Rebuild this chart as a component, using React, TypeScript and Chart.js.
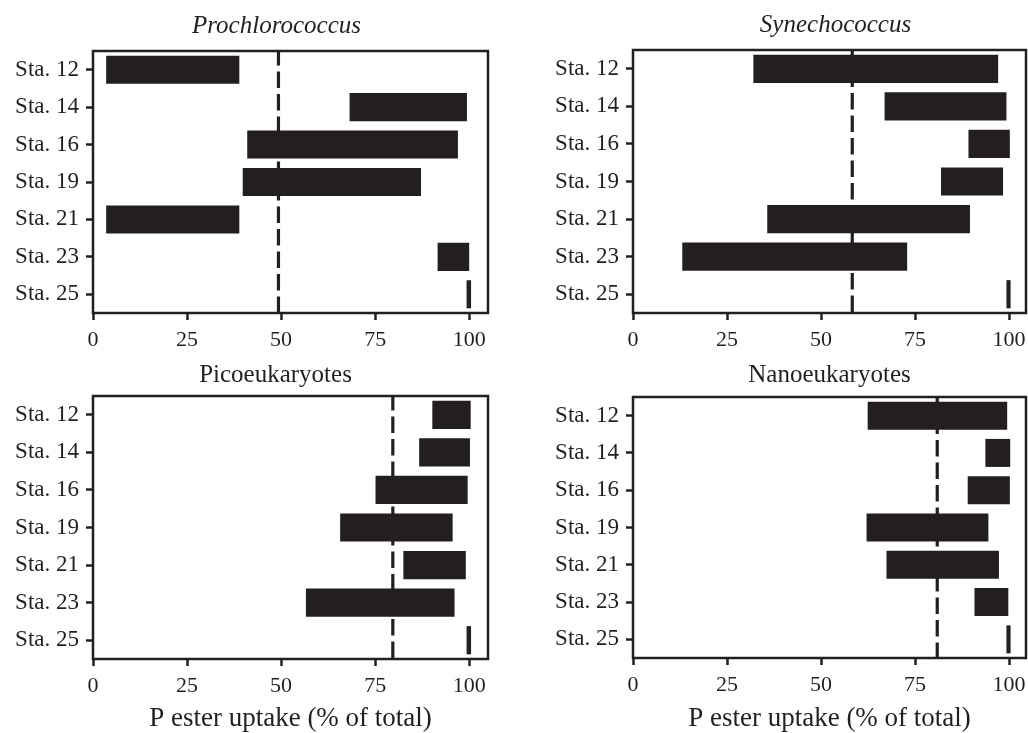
import React, { useEffect, useRef } from "react";
import { Chart, registerables } from "chart.js";

Chart.register(...registerables);

const INK = "#231f20";
const SERIF = "'Liberation Serif', 'Times New Roman', serif";

const stations = ["Sta. 12", "Sta. 14", "Sta. 16", "Sta. 19", "Sta. 21", "Sta. 23", "Sta. 25"];
const xTickValues = [0, 25, 50, 75, 100];
const xAxisTitle = "P ester uptake (% of total)";

const prochloroStart = [3.5, 68.2, 41, 39.8, 3.5, 91.6, 99.3];
const prochloroEnd = [38.9, 99.4, 97, 87.2, 38.9, 100, 100.5];
const prochloroMean = 49.3;

const synechoStart = [32, 66.9, 89.2, 81.9, 35.7, 13.1, 99.3];
const synechoEnd = [97.1, 99.3, 100.2, 98.4, 89.6, 72.9, 100.4];
const synechoMean = 58.3;

const picoStart = [90.2, 86.7, 75.1, 65.7, 82.5, 56.6, 99.3];
const picoEnd = [100.4, 100.2, 99.6, 95.6, 99.1, 96.1, 100.5];
const picoMean = 79.7;

const nanoStart = [62.4, 93.7, 89, 62.1, 67.4, 90.8, 99.3];
const nanoEnd = [99.5, 100.3, 100.2, 94.5, 97.3, 99.8, 100.4];
const nanoMean = 80.9;

const panelPlugin = {
  id: "panelDecor",
  beforeDatasetsDraw(chart: any, _args: any, opts: any) {
    const { ctx, chartArea: a, scales } = chart;
    const px = scales.x.getPixelForValue(opts.mean);
    ctx.save();
    ctx.strokeStyle = INK;
    ctx.lineWidth = 3.2;
    ctx.setLineDash([16.5, 6]);
    ctx.lineDashOffset = 2;
    ctx.beginPath();
    ctx.moveTo(px, a.top);
    ctx.lineTo(px, a.bottom);
    ctx.stroke();
    ctx.restore();
  },
  afterDatasetsDraw(chart: any, _args: any, opts: any) {
    const { ctx, chartArea: a } = chart;
    ctx.save();
    ctx.strokeStyle = INK;
    ctx.lineWidth = 2.5;
    ctx.setLineDash([]);
    ctx.strokeRect(a.left, a.top, a.right - a.left, a.bottom - a.top);
    ctx.fillStyle = INK;
    ctx.font = `${opts.italic ? "italic " : ""}25px ${SERIF}`;
    ctx.textAlign = "center";
    ctx.textBaseline = "middle";
    ctx.fillText(opts.title, (a.left + a.right) / 2 + opts.titleDx, opts.titleY);
    ctx.restore();
  },
};

type PanelProps = {
  title: string;
  italic: boolean;
  starts: number[];
  ends: number[];
  mean: number;
  showXTitle: boolean;
  left: number;
  top: number;
  width: number;
  height: number;
  chartLeft: number;
  chartRight: number;
  chartTop: number;
  chartBottom: number;
  xMax: number;
  titleDx: number;
  titleY: number;
};

function Panel(p: PanelProps) {
  const ref = useRef<HTMLCanvasElement>(null);
  useEffect(() => {
    const chart = new Chart(ref.current as HTMLCanvasElement, {
      type: "bar",
      data: {
        labels: stations,
        datasets: [
          {
            data: p.starts.map((s, i) => [s, p.ends[i]]) as any,
            backgroundColor: INK,
            borderWidth: 0,
            barPercentage: 0.75,
            categoryPercentage: 1,
          },
        ],
      },
      options: {
        indexAxis: "y",
        animation: false,
        responsive: false,
        layout: { padding: { left: 0, top: p.chartTop, right: p.width - p.chartRight, bottom: 0 } },
        plugins: {
          legend: { display: false },
          tooltip: { enabled: false },
          title: { display: false },
          panelDecor: {
            mean: p.mean,
            title: p.title,
            italic: p.italic,
            titleDx: p.titleDx,
            titleY: p.titleY,
          },
        } as any,
        scales: {
          x: {
            type: "linear",
            min: 0,
            max: p.xMax,
            afterBuildTicks: (s: any) => {
              s.ticks = xTickValues.map((v) => ({ value: v }));
            },
            afterFit: (s: any) => {
              s.height = p.height - p.chartBottom;
            },
            grid: {
              drawOnChartArea: false,
              drawTicks: true,
              tickLength: 7,
              tickWidth: 2.5,
              tickColor: INK,
            },
            border: { display: false },
            ticks: {
              color: INK,
              font: { family: SERIF, size: 22 },
              padding: 7,
              maxRotation: 0,
              autoSkip: false,
            },
            title: {
              display: p.showXTitle,
              text: xAxisTitle,
              color: INK,
              font: { family: SERIF, size: 27 },
              padding: { top: 0, bottom: -2 },
            },
          },
          y: {
            type: "category",
            afterFit: (s: any) => {
              s.width = p.chartLeft;
            },
            grid: {
              offset: false,
              drawOnChartArea: false,
              drawTicks: true,
              tickLength: 7,
              tickWidth: 2.5,
              tickColor: INK,
            },
            border: { display: false },
            ticks: {
              color: INK,
              font: { family: SERIF, size: 23 },
              padding: 7,
              autoSkip: false,
            },
          },
        },
      } as any,
      plugins: [panelPlugin],
    });
    return () => chart.destroy();
  }, []);
  return (
    <canvas
      ref={ref}
      width={p.width}
      height={p.height}
      style={{ position: "absolute", left: p.left, top: p.top, width: p.width, height: p.height, display: "block" }}
    />
  );
}

export default function App() {
  return (
    <div style={{ position: "absolute", left: 0, top: 0, width: 1028, height: 733, background: "#fff", overflow: "hidden" }}>
      <Panel
        title="Prochlorococcus"
        italic={true}
        starts={prochloroStart}
        ends={prochloroEnd}
        mean={prochloroMean}
        showXTitle={false}
        left={0}
        top={0}
        width={514}
        height={360}
        chartLeft={93}
        chartRight={488}
        chartTop={51}
        chartBottom={313}
        xMax={105}
        titleDx={-14}
        titleY={26}
      />
      <Panel
        title="Synechococcus"
        italic={true}
        starts={synechoStart}
        ends={synechoEnd}
        mean={synechoMean}
        showXTitle={false}
        left={514}
        top={0}
        width={545}
        height={360}
        chartLeft={119}
        chartRight={512}
        chartTop={50}
        chartBottom={313}
        xMax={104.5}
        titleDx={6}
        titleY={25}
      />
      <Panel
        title="Picoeukaryotes"
        italic={false}
        starts={picoStart}
        ends={picoEnd}
        mean={picoMean}
        showXTitle={true}
        left={0}
        top={360}
        width={514}
        height={373}
        chartLeft={93}
        chartRight={488}
        chartTop={36}
        chartBottom={299}
        xMax={105}
        titleDx={-15}
        titleY={15}
      />
      <Panel
        title="Nanoeukaryotes"
        italic={false}
        starts={nanoStart}
        ends={nanoEnd}
        mean={nanoMean}
        showXTitle={true}
        left={514}
        top={360}
        width={545}
        height={373}
        chartLeft={119}
        chartRight={512}
        chartTop={37}
        chartBottom={298}
        xMax={104.5}
        titleDx={0}
        titleY={15}
      />
    </div>
  );
}
